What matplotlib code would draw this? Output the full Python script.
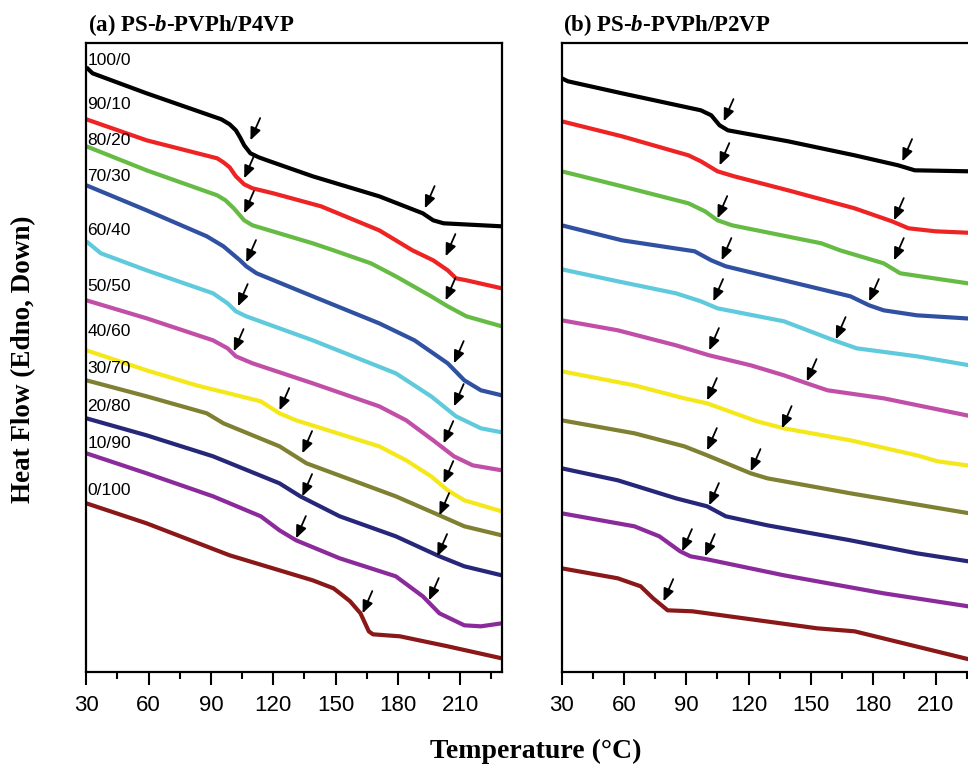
import matplotlib
matplotlib.use("Agg")
import matplotlib.pyplot as plt
from matplotlib.ticker import MultipleLocator

# blend ratios (PS-b-PVPh / PxVP)
ratios = ["100/0", "90/10", "80/20", "70/30", "60/40", "50/50",
          "40/60", "30/70", "20/80", "10/90", "0/100"]

# ---- (a) PS-b-PVPh/P4VP : temperature (C) and heat flow (a.u., stacked) ----
p4vp_T = [
    [30, 33, 59, 95, 99, 102, 104, 106, 109, 113, 117, 139, 171, 192, 197, 202, 230],
    [30, 59, 93, 96, 99, 102, 106, 110, 120, 143, 171, 187, 197, 204, 208, 213, 230],
    [30, 59, 93, 97, 101, 106, 110, 139, 149, 167, 179, 196, 204, 213, 230],
    [30, 59, 88, 96, 104, 107, 112, 139, 171, 188, 204, 212, 220, 230],
    [30, 37, 59, 91, 98, 102, 107, 139, 179, 196, 208, 220, 230],
    [30, 59, 91, 98, 102, 110, 139, 171, 184, 197, 207, 216, 230],
    [30, 59, 83, 114, 123, 131, 171, 184, 196, 204, 212, 230],
    [30, 59, 88, 96, 123, 136, 149, 179, 200, 212, 230],
    [30, 59, 91, 123, 133, 152, 179, 200, 212, 230],
    [30, 59, 91, 114, 123, 131, 152, 179, 192, 200, 212, 220, 230],
    [30, 59, 99, 139, 149, 154, 157, 162, 166, 168, 181, 204, 230],
]
p4vp_H = [
    [605, 599, 579, 553, 548, 542, 535, 527, 519, 515, 512, 496, 476, 459, 452, 449, 446],
    [553, 532, 514, 510, 505, 496, 488, 484, 479, 466, 442, 422, 412, 402, 394, 392, 384],
    [526, 502, 477, 472, 464, 452, 447, 429, 422, 409, 396, 376, 366, 356, 346],
    [487, 462, 436, 426, 412, 406, 399, 376, 349, 332, 309, 292, 282, 277],
    [431, 419, 402, 379, 369, 361, 356, 332, 299, 276, 256, 244, 240],
    [372, 354, 332, 324, 316, 309, 289, 266, 252, 232, 216, 207, 202],
    [322, 302, 287, 271, 259, 252, 226, 212, 196, 182, 172, 161],
    [292, 276, 259, 249, 226, 209, 199, 176, 157, 146, 137],
    [254, 237, 216, 189, 176, 156, 136, 116, 106, 97],
    [219, 199, 176, 156, 142, 132, 114, 96, 76, 59, 47, 46, 49],
    [169, 149, 117, 92, 84, 76, 71, 59, 41, 38, 36, 26, 14],
]
# transitions marked with arrows (T, heat flow)
p4vp_tg_T = [109, 193, 106, 203, 106, 203, 107, 207, 103, 207, 101, 202,
             123, 202, 134, 200, 134, 199, 131, 195, 163]
p4vp_tg_H = [532, 464, 494, 416, 459, 372, 410, 309, 366, 266, 321, 229,
             262, 189, 219, 157, 176, 116, 134, 72, 59]
p4vp_label_H = [612, 568, 532, 496, 442, 386, 341, 304, 266, 229, 182]

# ---- (b) PS-b-PVPh/P2VP ----
p2vp_T = [
    [30, 33, 59, 97, 102, 106, 110, 139, 171, 192, 200, 226, 232],
    [30, 59, 91, 97, 105, 113, 139, 171, 189, 197, 210, 232],
    [30, 59, 91, 99, 105, 112, 155, 164, 185, 193, 232],
    [30, 59, 94, 102, 109, 137, 169, 178, 185, 201, 232],
    [30, 57, 85, 97, 105, 137, 161, 172, 201, 232],
    [30, 57, 85, 101, 121, 137, 148, 158, 185, 232],
    [30, 65, 89, 100, 124, 137, 169, 201, 211, 232],
    [30, 65, 89, 100, 121, 129, 169, 232],
    [30, 57, 85, 100, 109, 129, 169, 201, 232],
    [30, 65, 77, 87, 92, 100, 137, 185, 232],
    [30, 57, 68, 74, 81, 93, 153, 171, 232],
]
p2vp_H = [
    [594, 591, 579, 562, 557, 547, 542, 531, 517, 507, 502, 501, 500],
    [551, 536, 517, 511, 501, 496, 482, 464, 451, 444, 441, 439],
    [501, 486, 469, 461, 452, 447, 429, 422, 409, 399, 387],
    [447, 432, 421, 412, 406, 392, 376, 367, 362, 357, 353],
    [403, 391, 379, 371, 364, 351, 332, 324, 316, 305],
    [352, 342, 327, 317, 307, 297, 289, 282, 274, 254],
    [301, 287, 274, 269, 251, 244, 232, 217, 211, 205],
    [252, 239, 226, 217, 199, 194, 179, 157],
    [204, 192, 174, 166, 156, 147, 132, 119, 109],
    [159, 146, 136, 121, 116, 113, 97, 79, 64],
    [104, 94, 86, 74, 62, 61, 44, 41, 10],
]
p2vp_tg_T = [108, 194, 106, 190, 105, 190, 107, 178, 103, 162, 101, 148,
             100, 136, 100, 121, 101, 88, 99, 79]
p2vp_tg_H = [551, 511, 507, 452, 454, 412, 412, 371, 371, 333, 322, 291,
             272, 244, 222, 201, 167, 121, 116, 71]

colors = ["#000000", "#ee2424", "#66bb44", "#3050a2", "#5fcadc", "#c14fa8",
          "#f5e81a", "#808033", "#27277a", "#8b2b9b", "#8b1818"]

plt.rcParams["font.family"] = "Liberation Sans"
plt.rcParams["mathtext.fontset"] = "custom"
plt.rcParams["mathtext.rm"] = "Liberation Serif:bold"
plt.rcParams["mathtext.bfit"] = "Liberation Serif:bold:italic"
plt.rcParams["mathtext.it"] = "Liberation Serif:bold:italic"

fig = plt.figure(figsize=(9.68, 7.64), dpi=100)
ax_a = fig.add_axes([0.0892, 0.120, 0.4291, 0.8241])
ax_b = fig.add_axes([0.5803, 0.120, 0.4291, 0.8241])

def draw_panel(ax, T, H, tg_T, tg_H, title):
    for t, h, c in zip(T, H, colors):
        ax.plot(t, h, color=c, lw=3, solid_joinstyle="round", solid_capstyle="butt")
    for t, h in zip(tg_T, tg_H):
        ax.annotate("", xy=(t, h), xytext=(7, 16), textcoords="offset points",
                    arrowprops=dict(arrowstyle="-|>,head_length=0.75,head_width=0.32",
                                    color="black", lw=1.3, shrinkA=0, shrinkB=0))
    ax.set_xlim(30, 230)
    ax.set_ylim(0, 629.6)
    ax.set_yticks([])
    ax.xaxis.set_major_locator(MultipleLocator(30))
    ax.xaxis.set_minor_locator(MultipleLocator(15))
    ax.tick_params(axis="x", which="major", length=9, width=1.5, pad=7, labelsize=16)
    ax.tick_params(axis="x", which="minor", length=5, width=1.5)
    for s in ax.spines.values():
        s.set_linewidth(1.6)
    ax.text(0.004, 1.028, title, transform=ax.transAxes, ha="left", va="center",
            fontsize=16.5, fontfamily="Liberation Serif", fontweight="bold")

draw_panel(ax_a, p4vp_T, p4vp_H, p4vp_tg_T, p4vp_tg_H, r"(a) PS-$\mathit{b}$-PVPh/P4VP")
draw_panel(ax_b, p2vp_T, p2vp_H, p2vp_tg_T, p2vp_tg_H, r"(b) PS-$\mathit{b}$-PVPh/P2VP")

for lab, h in zip(ratios, p4vp_label_H):
    ax_a.text(30.6, h, lab, fontsize=12.5, va="center", ha="left")

fig.text(24 / 968, 1 - 359 / 764, "Heat Flow (Edno, Down)", rotation=90,
         ha="center", va="center", fontsize=19.5, fontfamily="Liberation Serif",
         fontweight="bold")
fig.text(536 / 968, 1 - 751 / 764, "Temperature (\u00b0C)", ha="center", va="center",
         fontsize=20, fontfamily="Liberation Serif", fontweight="bold")

fig.savefig("out.png", dpi=100)
